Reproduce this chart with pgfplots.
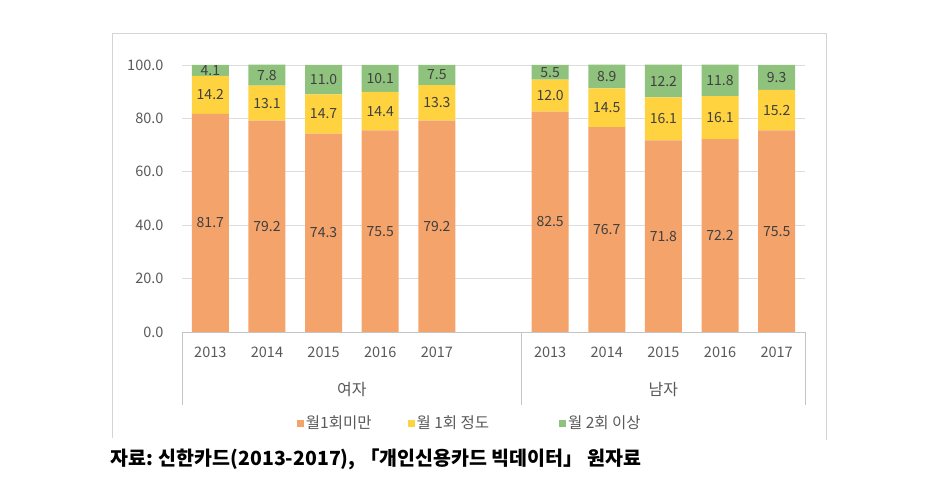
\documentclass[border=0pt]{standalone}
\usepackage{pgfplots}
\pgfplotsset{compat=1.18}
\usepackage{fontspec}
\setmainfont{Noto Sans CJK KR}
\definecolor{cOrange}{HTML}{F4A36B}
\definecolor{cYellow}{HTML}{FFD23F}
\definecolor{cGreen}{HTML}{8FC27D}
\definecolor{tickgray}{HTML}{595959}
\definecolor{labgray}{HTML}{404040}
\definecolor{gridgray}{HTML}{DDDDDD}
\definecolor{axisgray}{HTML}{C4C4C4}
\definecolor{framegray}{HTML}{D4D4D4}
\pgfplotsset{base/.style={at={(182pt,153pt)}, anchor=south west, scale only axis,
  width=623pt, height=267pt, xmin=-0.5, xmax=10.5, ymin=0, ymax=100}}
\begin{document}
\begin{tikzpicture}[x=1pt,y=1pt]
\path (0,0) rectangle (935,485);
\draw[framegray, line width=1pt] (112,47) -- (112,451) -- (826,451) -- (826,45);
\begin{axis}[base, ybar stacked, bar width=37pt,
  ytick={0,20,...,100}, ymajorgrids, grid style={gridgray, line width=0.8pt},
  axis line style={draw=none}, major tick length=0pt,
  xtick={0,1,2,3,4,6,7,8,9,10},
  xticklabels={2013,2014,2015,2016,2017,2013,2014,2015,2016,2017},
  /pgf/number format/fixed, /pgf/number format/fixed zerofill, /pgf/number format/precision=1,
  /pgf/number format/assume math mode=true,
  tick label style={font=\fontsize{14.5}{17}\selectfont, color=tickgray},
  xticklabel style={yshift=-11pt},
  yticklabel style={xshift=-15pt},
  legend columns=3,
  legend style={draw=none, at={(0.462,-0.341)}, anchor=center,
    font=\fontsize{15.5}{17}\selectfont, text=tickgray,
    /tikz/every even column/.append style={column sep=34pt}},
  legend image code/.code={\fill[#1] (0pt,-3.5pt) rectangle (7pt,3.5pt);},
  ]
\addplot[fill=cOrange, draw=none] coordinates {(0,81.7) (1,79.2) (2,74.3) (3,75.5) (4,79.2) (6,82.5) (7,76.7) (8,71.8) (9,72.2) (10,75.5)};
\addplot[fill=cYellow, draw=none] coordinates {(0,14.2) (1,13.1) (2,14.7) (3,14.4) (4,13.3) (6,12.0) (7,14.5) (8,16.1) (9,16.1) (10,15.2)};
\addplot[fill=cGreen, draw=none] coordinates {(0,4.1) (1,7.8) (2,11.0) (3,10.1) (4,7.5) (6,5.5) (7,8.9) (8,12.2) (9,11.8) (10,9.3)};
\legend{월1회미만, 월 1회 정도\rule{34pt}{0pt}, 월 2회 이상}
\end{axis}
\begin{axis}[base, hide axis, clip=false,
  nodes near coords, point meta=explicit symbolic,
  every node near coord/.append style={anchor=center, font=\fontsize{14}{16}\selectfont, text=labgray}]
\addplot[draw=none, mark=none] coordinates {
 (0,40.85)[81.7] (1,39.6)[79.2] (2,37.15)[74.3] (3,37.75)[75.5] (4,39.6)[79.2]
 (6,41.25)[82.5] (7,38.35)[76.7] (8,35.9)[71.8] (9,36.1)[72.2] (10,37.75)[75.5]};
\addplot[draw=none, mark=none] coordinates {
 (0,88.8)[14.2] (1,85.75)[13.1] (2,81.65)[14.7] (3,82.7)[14.4] (4,85.85)[13.3]
 (6,88.5)[12.0] (7,83.95)[14.5] (8,79.85)[16.1] (9,80.25)[16.1] (10,83.1)[15.2]};
\addplot[draw=none, mark=none] coordinates {
 (0,97.95)[4.1] (1,96.2)[7.8] (2,94.5)[11.0] (3,94.95)[10.1] (4,96.25)[7.5]
 (6,97.25)[5.5] (7,95.65)[8.9] (8,94.0)[12.2] (9,94.2)[11.8] (10,95.35)[9.3]};
\draw[axisgray, line width=0.9pt] (axis cs:-0.5,0) -- (axis cs:10.5,0);
\draw[axisgray, line width=0.9pt] (axis cs:-0.5,0) -- ++(0pt,-73pt);
\draw[axisgray, line width=0.9pt] (axis cs:5.5,0) -- ++(0pt,-73pt);
\draw[axisgray, line width=0.9pt] (axis cs:10.5,0) -- ++(0pt,-73pt);
\node[font=\fontsize{16}{18}\selectfont, text=tickgray] at (axis cs:2.5,0) [yshift=-58pt] {여자};
\node[font=\fontsize{16}{18}\selectfont, text=tickgray] at (axis cs:8,0) [yshift=-58pt] {남자};
\end{axis}
\node[anchor=west, inner sep=0pt, font=\fontsize{19.5}{22}\selectfont\bfseries] at (110,26) {자료: 신한카드(2013-2017), 「개인신용카드 빅데이터」 원자료};
\end{tikzpicture}
\end{document}
